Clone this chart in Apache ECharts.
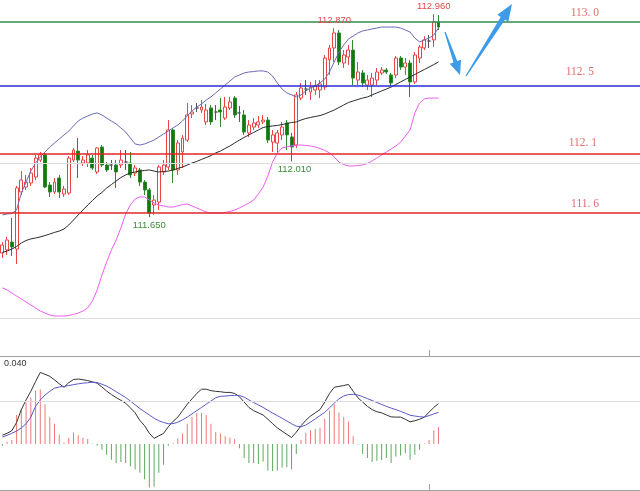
<!DOCTYPE html>
<html>
<head>
<meta charset="utf-8">
<title>USDJPY H1</title>
<style>
html, body { margin: 0; padding: 0; background: #fff; }
#chart { width: 640px; height: 491px; }
</style>
<script src="https://cdn.jsdelivr.net/npm/echarts@6.0.0/dist/echarts.min.js"></script>
</head>
<body>
<div id="chart"></div>
<script>
// price bars: [open, close, low, high]
var candles = [
  [111.419,111.471,111.387,111.490],[111.439,111.503,111.406,111.523],[111.490,111.458,111.400,111.645],
  [111.445,111.839,111.348,111.852],[111.813,111.890,111.794,111.948],[111.845,111.877,111.826,111.923],
  [111.871,111.935,111.852,111.968],[111.910,112.032,111.890,112.052],[112.019,112.052,112.006,112.071],
  [112.052,111.845,111.839,112.065],[111.858,111.813,111.781,111.877],[111.813,111.877,111.800,111.903],
  [111.903,111.813,111.774,111.923],[111.800,111.832,111.781,111.852],[111.806,112.032,111.794,112.045],
  [112.019,112.084,112.006,112.097],[112.077,112.019,111.903,112.161],[112.000,112.019,111.981,112.045],
  [112.000,112.052,111.974,112.084],[112.032,111.968,111.955,112.052],[111.942,112.097,111.929,112.103],
  [112.103,111.987,111.974,112.116],[111.987,111.955,111.942,112.006],[111.987,111.987,111.955,112.019],
  [111.987,111.942,111.839,112.019],[111.987,112.019,111.968,112.084],[112.006,112.006,111.955,112.084],
  [112.000,111.923,111.903,112.071],[111.935,111.968,111.916,111.987],[111.955,111.877,111.852,111.968],
  [111.877,111.826,111.794,111.890],[111.826,111.677,111.650,111.839],[111.729,111.761,111.665,111.794],
  [111.748,111.974,111.697,111.987],[111.942,111.987,111.923,112.019],[111.974,112.213,111.955,112.277],
  [112.213,111.955,111.871,112.226],[111.955,112.129,111.923,112.148],[112.071,112.161,111.968,112.181],
  [112.148,112.310,112.135,112.387],[112.316,112.329,112.290,112.374],[112.355,112.355,112.329,112.387],
  [112.342,112.361,112.323,112.406],[112.265,112.342,112.245,112.381],[112.355,112.265,112.245,112.374],
  [112.329,112.329,112.277,112.374],[112.342,112.329,112.232,112.419],[112.290,112.361,112.277,112.426],
  [112.355,112.394,112.342,112.426],[112.419,112.310,112.290,112.432],[112.323,112.323,112.265,112.368],
  [112.310,112.200,112.181,112.342],[112.194,112.245,112.168,112.277],[112.232,112.258,112.213,112.290],
  [112.245,112.265,112.226,112.303],[112.265,112.277,112.252,112.310],[112.277,112.148,112.129,112.297],
  [112.135,112.181,112.071,112.213],[112.129,112.194,112.065,112.213],[112.181,112.232,112.148,112.265],
  [112.258,112.181,112.084,112.277],[112.168,112.103,112.010,112.194],[112.116,112.439,112.097,112.458],
  [112.419,112.484,112.406,112.516],[112.477,112.477,112.439,112.535],[112.458,112.490,112.406,112.523],
  [112.471,112.497,112.439,112.535],[112.471,112.510,112.419,112.535],[112.490,112.677,112.471,112.697],
  [112.665,112.742,112.568,112.761],[112.742,112.839,112.652,112.870],[112.839,112.652,112.632,112.858],
  [112.645,112.697,112.613,112.729],[112.684,112.729,112.632,112.761],[112.729,112.548,112.503,112.794],
  [112.535,112.587,112.503,112.652],[112.581,112.516,112.490,112.600],[112.503,112.535,112.471,112.568],
  [112.503,112.548,112.426,112.581],[112.535,112.587,112.503,112.613],[112.581,112.600,112.568,112.619],
  [112.600,112.587,112.574,112.613],[112.568,112.516,112.497,112.581],[112.568,112.677,112.548,112.690],
  [112.677,112.619,112.600,112.690],[112.619,112.645,112.568,112.677],[112.645,112.523,112.426,112.665],
  [112.523,112.697,112.510,112.716],[112.677,112.748,112.645,112.761],[112.742,112.794,112.729,112.819],
  [112.787,112.787,112.742,112.826],[112.794,112.910,112.748,112.960],[112.910,112.877,112.858,112.955]
];

// bollinger bands
var bollUpper = [
  111.665,111.671,111.674,111.697,111.806,111.877,111.948,112.000,112.039,112.071,
  112.103,112.129,112.155,112.181,112.206,112.239,112.271,112.290,112.303,112.316,
  112.323,112.310,112.290,112.271,112.252,112.226,112.200,112.161,112.123,112.116,
  112.123,112.135,112.148,112.168,112.187,112.206,112.226,112.245,112.271,112.303,
  112.335,112.361,112.381,112.406,112.426,112.452,112.477,112.503,112.529,112.555,
  112.568,112.581,112.587,112.590,112.594,112.594,112.587,112.561,112.516,112.477,
  112.452,112.439,112.426,112.439,112.465,112.484,112.497,112.516,112.542,112.587,
  112.652,112.716,112.761,112.800,112.819,112.839,112.852,112.858,112.865,112.871,
  112.877,112.877,112.877,112.877,112.871,112.858,112.845,112.806,112.781,112.794,
  112.806,112.826,112.871
];
var bollMid = [
  111.423,111.432,111.445,111.461,111.484,111.500,111.510,111.516,111.523,111.532,
  111.542,111.552,111.561,111.574,111.600,111.632,111.665,111.697,111.729,111.758,
  111.787,111.810,111.839,111.861,111.884,111.906,111.923,111.935,111.942,111.948,
  111.952,111.955,111.948,111.942,111.945,111.948,111.955,111.965,111.974,111.987,
  112.000,112.010,112.023,112.035,112.048,112.065,112.077,112.094,112.110,112.129,
  112.148,112.165,112.181,112.197,112.213,112.229,112.235,112.239,112.242,112.248,
  112.255,112.261,112.265,112.277,112.287,112.294,112.300,112.306,112.316,112.329,
  112.342,112.358,112.374,112.390,112.400,112.410,112.419,112.426,112.439,112.452,
  112.465,112.477,112.490,112.506,112.523,112.539,112.555,112.571,112.587,112.603,
  112.619,112.635,112.652
];
var bollLower = [
  111.194,111.181,111.161,111.142,111.123,111.103,111.084,111.065,111.045,111.032,
  111.019,111.013,111.013,111.013,111.016,111.023,111.032,111.045,111.065,111.110,
  111.181,111.277,111.361,111.439,111.503,111.581,111.671,111.729,111.768,111.781,
  111.781,111.761,111.742,111.729,111.723,111.716,111.716,111.723,111.732,111.735,
  111.723,111.710,111.697,111.684,111.677,111.677,111.677,111.681,111.687,111.697,
  111.710,111.726,111.742,111.761,111.800,111.845,111.916,112.006,112.065,112.097,
  112.103,112.110,112.116,112.116,112.113,112.110,112.103,112.094,112.081,112.065,
  112.039,112.006,111.990,111.981,111.981,111.984,111.987,111.997,112.013,112.032,
  112.052,112.071,112.090,112.110,112.135,112.174,112.213,112.323,112.387,112.413,
  112.419,112.419,112.419
];

// macd panel
var macdHist = [
  -0.0008,0.0011,0.0018,0.0135,0.0163,0.0193,0.0216,0.0249,0.0254,0.0185,
  0.0125,0.0094,0.0044,0.0006,0.0029,0.0053,0.0041,0.0029,0.0023,0.0002,
  -0.0008,-0.0027,-0.0050,-0.0073,-0.0088,-0.0084,-0.0088,-0.0103,-0.0119,-0.0134,
  -0.0164,-0.0202,-0.0199,-0.0134,-0.0096,-0.0008,0.0003,0.0026,0.0049,0.0094,
  0.0125,0.0144,0.0144,0.0135,0.0094,0.0056,0.0049,0.0036,0.0029,0.0023,
  -0.0020,-0.0065,-0.0088,-0.0088,-0.0093,-0.0081,-0.0123,-0.0126,-0.0123,-0.0111,
  -0.0108,-0.0119,-0.0046,0.0018,0.0052,0.0064,0.0071,0.0076,0.0117,0.0155,
  0.0185,0.0147,0.0125,0.0105,0.0036,-0.0002,-0.0047,-0.0065,-0.0084,-0.0078,
  -0.0074,-0.0065,-0.0088,-0.0058,-0.0053,-0.0043,-0.0073,-0.0050,-0.0027,0.0003,
  0.0018,0.0064,0.0079
];
var macdMain = [
  0.0041,0.0050,0.0062,0.0100,0.0160,0.0205,0.0245,0.0290,0.0333,0.0324,
  0.0315,0.0298,0.0280,0.0264,0.0285,0.0300,0.0302,0.0299,0.0295,0.0289,
  0.0283,0.0265,0.0246,0.0230,0.0216,0.0203,0.0190,0.0168,0.0145,0.0110,
  0.0085,0.0050,0.0026,0.0038,0.0049,0.0080,0.0105,0.0125,0.0155,0.0185,
  0.0210,0.0235,0.0255,0.0255,0.0248,0.0245,0.0243,0.0240,0.0240,0.0235,
  0.0220,0.0195,0.0170,0.0155,0.0145,0.0135,0.0115,0.0095,0.0075,0.0060,
  0.0045,0.0030,0.0055,0.0085,0.0110,0.0130,0.0145,0.0160,0.0195,0.0235,
  0.0264,0.0268,0.0272,0.0277,0.0245,0.0215,0.0195,0.0175,0.0160,0.0150,
  0.0145,0.0135,0.0126,0.0125,0.0125,0.0115,0.0103,0.0108,0.0115,0.0125,
  0.0148,0.0170,0.0188
];
var macdSignal = [
  0.0033,0.0040,0.0050,0.0060,0.0075,0.0094,0.0125,0.0175,0.0205,0.0228,
  0.0245,0.0260,0.0265,0.0268,0.0272,0.0276,0.0280,0.0283,0.0285,0.0287,
  0.0286,0.0278,0.0269,0.0257,0.0243,0.0230,0.0216,0.0200,0.0182,0.0165,
  0.0150,0.0135,0.0120,0.0108,0.0100,0.0094,0.0095,0.0101,0.0112,0.0125,
  0.0140,0.0155,0.0170,0.0185,0.0200,0.0215,0.0222,0.0223,0.0225,0.0226,
  0.0226,0.0218,0.0205,0.0193,0.0182,0.0170,0.0157,0.0144,0.0132,0.0120,
  0.0107,0.0094,0.0083,0.0080,0.0088,0.0102,0.0117,0.0132,0.0147,0.0168,
  0.0190,0.0210,0.0223,0.0230,0.0231,0.0228,0.0220,0.0211,0.0202,0.0193,
  0.0184,0.0175,0.0167,0.0160,0.0152,0.0143,0.0134,0.0130,0.0127,0.0125,
  0.0132,0.0140,0.0147
];

// drawn levels and their captions
var levelPrices = [112.910, 112.497, 112.058, 111.677];
var levelLabels = ['113. 0', '112. 5', '112. 1', '111. 6'];
var gridPrices = [111.0, 112.0];
var macdGrid = [0.02];
var macdTopLabel = '0.040';

// marked highs / lows: [bar index, 'high' | 'low']
var extremes = [[91, 'high'], [70, 'high'], [61, 'low'], [31, 'low']];

var slotCount = 135; // bars + empty space to the right edge

var chart = echarts.init(document.getElementById('chart'));

var slots = [];
for (var i = 0; i < slotCount; i++) slots.push(String(i));

var candleData = candles.map(function (c) {
  if (c[0] === c[1]) {
    return { value: c, itemStyle: { color: '#555', color0: '#555', borderColor: '#555', borderColor0: '#555' } };
  }
  return c;
});

var levelStyle = [
  { color: '#2e8b4e', gap: 3 },
  { color: '#2b2bd6', gap: 8 },
  { color: '#e02626', gap: 5 },
  { color: '#e02626', gap: 3 }
];

var levelMarks = levelPrices.map(function (p, k) {
  return {
    yAxis: p,
    lineStyle: { color: levelStyle[k].color, width: 1.5, type: 'solid' },
    label: {
      show: true, position: 'insideEndTop', formatter: levelLabels[k],
      color: '#e26a6a', fontFamily: 'Liberation Serif', fontSize: 11.5,
      padding: [0, 38, 0, 0], distance: levelStyle[k].gap
    }
  };
});

var extremeMarks = extremes.map(function (e) {
  var c = candles[e[0]];
  var isHigh = e[1] === 'high';
  var v = isHigh ? c[3] : c[2];
  return {
    coord: [e[0], v],
    label: {
      show: true, formatter: v.toFixed(3),
      position: isHigh ? 'top' : 'bottom', distance: 3,
      offset: e[0] === 61 ? [3, 0] : [0, 0],
      color: isHigh ? '#e04848' : '#3a8f3a',
      fontFamily: 'Liberation Sans', fontSize: 9.5
    }
  };
});

function xAxisFor(g) {
  return {
    type: 'category', gridIndex: g, data: slots, boundaryGap: true,
    axisLine: { show: true, onZero: false, lineStyle: { color: '#a0a0a0', width: 1 } },
    axisTick: {
      show: true, inside: true, length: 6, alignWithLabel: true,
      interval: function (idx) { return idx === 90; },
      lineStyle: { color: '#a0a0a0' }
    },
    axisLabel: { show: false },
    splitLine: { show: false }
  };
}

function lineFor(data, color, z, xi) {
  return {
    type: 'line', data: data, xAxisIndex: xi, yAxisIndex: xi,
    symbol: 'none', smooth: false, z: z, silent: true,
    lineStyle: { color: color, width: 1 }
  };
}

var option = {
  animation: false,
  backgroundColor: '#ffffff',
  grid: [
    { left: 0, right: 0, top: 0, height: 356 },
    { left: 0, right: 0, top: 356, height: 134 }
  ],
  xAxis: [xAxisFor(0), xAxisFor(1)],
  yAxis: [
    { type: 'value', gridIndex: 0, min: 110.7548, max: 113.0516, show: false },
    { type: 'value', gridIndex: 1, min: -0.02140, max: 0.04093, show: false }
  ],
  series: [
    {
      type: 'line', data: [], xAxisIndex: 0, yAxisIndex: 0, z: 1, silent: true,
      markLine: {
        symbol: ['none', 'none'], silent: true, animation: false,
        lineStyle: { color: '#dcdcdc', width: 1, type: 'solid' },
        label: { show: false },
        data: gridPrices.map(function (p) { return { yAxis: p }; })
      }
    },
    {
      type: 'candlestick', data: candleData, xAxisIndex: 0, yAxisIndex: 0,
      barWidth: 3.4, z: 2,
      itemStyle: {
        color: '#ffffff', color0: '#0f780f',
        borderColor: '#e84646', borderColor0: '#2f8a2f', borderWidth: 1
      },
      markPoint: {
        symbol: 'rect', symbolSize: 0, silent: true, animation: false,
        data: extremeMarks
      }
    },
    lineFor(bollUpper, '#6b6bb8', 3, 0),
    lineFor(bollMid, '#2b2b2b', 3, 0),
    lineFor(bollLower, '#ee5fee', 3, 0),
    {
      type: 'line', data: [], xAxisIndex: 0, yAxisIndex: 0, z: 5, silent: true,
      markLine: {
        symbol: ['none', 'none'], silent: true, animation: false,
        data: levelMarks
      }
    },
    {
      type: 'bar', data: macdHist, xAxisIndex: 1, yAxisIndex: 1, barWidth: 1, z: 2,
      itemStyle: {
        color: function (p) { return p.value >= 0 ? '#f07878' : '#5fa95f'; }
      },
      markLine: {
        symbol: ['none', 'none'], silent: true, animation: false,
        lineStyle: { color: '#dcdcdc', width: 1, type: 'solid' },
        label: { show: false },
        data: macdGrid.map(function (v) { return { yAxis: v }; })
      }
    },
    lineFor(macdMain, '#333333', 3, 1),
    lineFor(macdSignal, '#5a5ac8', 3, 1)
  ]
};

chart.setOption(option);

// hand-drawn arrows on the right of the last bar
function arrowShape(x0, y0, x1, y1, headLen, headHalf, neckHalf) {
  var dx = x1 - x0, dy = y1 - y0, len = Math.sqrt(dx * dx + dy * dy);
  var ux = dx / len, uy = dy / len, nx = -uy, ny = ux;
  var bx = x1 - ux * headLen, by = y1 - uy * headLen;
  return [
    [x0 + nx * 0.6, y0 + ny * 0.6],
    [bx + nx * neckHalf, by + ny * neckHalf],
    [bx + nx * headHalf, by + ny * headHalf],
    [x1, y1],
    [bx - nx * headHalf, by - ny * headHalf],
    [bx - nx * neckHalf, by - ny * neckHalf],
    [x0 - nx * 0.6, y0 - ny * 0.6]
  ];
}

chart.setOption({
  graphic: [
    { type: 'polygon', shape: { points: arrowShape(445, 32, 460, 75, 14, 6, 2) }, style: { fill: '#3d9be9' }, z: 10 },
    { type: 'polygon', shape: { points: arrowShape(466, 76, 512, 4, 17, 6.5, 2.5) }, style: { fill: '#3d9be9' }, z: 10 },
    { type: 'text', left: 4, top: 359, style: { text: macdTopLabel, fill: '#333', font: '9px "Liberation Sans"' }, z: 10 }
  ]
});
</script>
</body>
</html>
